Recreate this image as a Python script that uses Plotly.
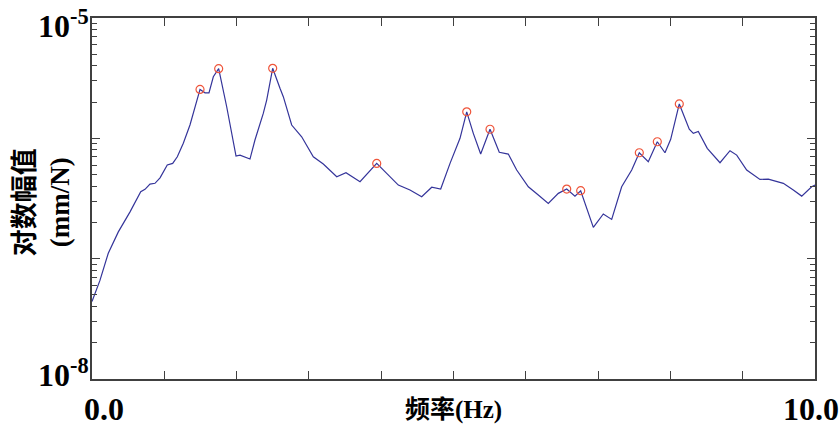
import plotly.graph_objects as go

# Frequency (Hz)
freq = [0.0, 0.11, 0.225, 0.364, 0.526, 0.674, 0.733, 0.802, 0.871, 0.941,
        1.041, 1.116, 1.18, 1.263, 1.355, 1.494, 1.563, 1.618, 1.678, 1.752,
        1.863, 1.992, 2.047, 2.185, 2.254, 2.369, 2.416, 2.499, 2.600, 2.646,
        2.762, 2.900, 3.061, 3.199, 3.385, 3.513, 3.707, 3.938, 4.076, 4.237,
        4.398, 4.560, 4.699, 4.823, 4.952, 5.044, 5.090, 5.183, 5.274, 5.376,
        5.505, 5.633, 5.758, 5.874, 6.035, 6.173, 6.311, 6.450, 6.566, 6.680,
        6.759, 6.934, 7.072, 7.188, 7.326, 7.465, 7.570, 7.694, 7.819, 7.925,
        8.004, 8.123, 8.261, 8.317, 8.386, 8.510, 8.686, 8.824, 8.917, 9.055,
        9.239, 9.354, 9.470, 9.562, 9.700, 9.816, 9.954, 10.0]

# Log magnitude (mm/N)
amp = [4.4e-8, 6.6e-8, 1.11e-7, 1.67e-7, 2.45e-7, 3.6e-7, 3.77e-7, 4.17e-7, 4.23e-7, 4.70e-7,
       6.0e-7, 6.19e-7, 7.03e-7, 9.09e-7, 1.29e-6, 2.55e-6, 2.39e-6, 2.39e-6, 3.25e-6, 3.79e-6,
       1.83e-6, 7.13e-7, 7.26e-7, 6.73e-7, 9.68e-7, 1.61e-6, 2.08e-6, 3.82e-6, 2.61e-6, 2.22e-6,
       1.29e-6, 1.03e-6, 7.03e-7, 6.11e-7, 4.80e-7, 5.18e-7, 4.36e-7, 6.19e-7, 5.12e-7, 4.09e-7,
       3.72e-7, 3.27e-7, 3.92e-7, 3.79e-7, 6.19e-7, 8.51e-7, 1.0e-6, 1.66e-6, 1.10e-6, 7.40e-7,
       1.19e-6, 7.66e-7, 7.40e-7, 5.45e-7, 3.96e-7, 3.38e-7, 2.88e-7, 3.49e-7, 3.79e-7, 3.31e-7,
       3.67e-7, 1.82e-7, 2.35e-7, 2.12e-7, 3.96e-7, 5.45e-7, 7.59e-7, 6.39e-7, 9.37e-7, 7.59e-7,
       9.81e-7, 1.93e-6, 1.19e-6, 1.10e-6, 1.14e-6, 8.26e-7, 6.27e-7, 7.89e-7, 7.26e-7, 5.45e-7,
       4.56e-7, 4.58e-7, 4.36e-7, 4.23e-7, 3.72e-7, 3.31e-7, 3.96e-7, 4.09e-7]

# Picked peaks
peak_freq = [1.494, 1.752, 2.499, 3.938, 5.183, 5.505, 6.566, 6.759, 7.570, 7.819, 8.123]
peak_amp = [2.55e-6, 3.79e-6, 3.82e-6, 6.19e-7, 1.66e-6, 1.19e-6, 3.79e-7, 3.67e-7, 7.59e-7, 9.37e-7, 1.93e-6]

x_tickvals = list(range(0, 11))
x_ticklabels = {0: "0.0", 10: "10.0"}
y_tickvals = [1e-8, 1e-7, 1e-6, 1e-5]
y_ticklabels = {-8: "10<sup>-8</sup>", -5: "10<sup>-5</sup>"}

FONT = "Liberation Serif, Times New Roman, Noto Sans CJK SC, serif"
AX = "#404040"

fig = go.Figure()
fig.add_trace(go.Scatter(x=freq, y=amp, mode="lines",
                         line=dict(color="#34349a", width=1.2), hoverinfo="skip"))
fig.add_trace(go.Scatter(x=peak_freq, y=peak_amp, mode="markers",
                         marker=dict(symbol="circle-open", size=8,
                                     line=dict(color="#c0504a", width=1.2)),
                         hoverinfo="skip"))

axis_common = dict(showline=True, linecolor=AX, linewidth=1.5, mirror="ticks",
                   ticks="inside", tickcolor=AX, tickwidth=1.2,
                   showgrid=False, zeroline=False, automargin=False,
                   showticklabels=False)

fig.update_xaxes(range=[0, 10], tickvals=x_tickvals, ticklen=8, **axis_common)
fig.update_yaxes(type="log", range=[-8, -5], tickvals=y_tickvals, ticklen=8,
                 minor=dict(ticks="inside", ticklen=5, tickcolor=AX,
                            dtick="D1", showgrid=False),
                 **axis_common)

tick_font = dict(family=FONT, size=32, color="black")
annotations = []
for xv, txt in x_ticklabels.items():
    annotations.append(dict(
        text="<b>" + txt + "</b>", xref="x", yref="paper", x=xv, y=-0.082,
        xanchor="left" if xv == 0 else "right", yanchor="middle",
        xshift=-10 if xv == 0 else 26, showarrow=False, font=tick_font))
for lv, txt in y_ticklabels.items():
    annotations.append(dict(
        text="<b>" + txt + "</b>", xref="paper", yref="y", x=0, y=lv,
        xanchor="right", yanchor="middle", xshift=-1,
        yshift=-6 if lv == -5 else 6, showarrow=False, font=tick_font))

annotations += [
    dict(text="<b>频率(Hz)</b>", xref="paper", yref="paper", x=0.5, y=-0.087,
         xanchor="center", yanchor="middle", showarrow=False,
         font=dict(family=FONT, size=25, color="black")),
    dict(text="<b>对数幅值<br>(mm/N)</b>", xref="paper", yref="paper", x=-0.069, y=0.49,
         xanchor="center", yanchor="middle", showarrow=False, textangle=-90,
         font=dict(family=FONT, size=27, color="black")),
]

fig.update_layout(
    width=840, height=430,
    margin=dict(l=92, r=25, t=18, b=51, autoexpand=False),
    paper_bgcolor="white", plot_bgcolor="white",
    showlegend=False,
    font=dict(family=FONT, color="black"),
    annotations=annotations,
)

fig.write_html("out.html")
